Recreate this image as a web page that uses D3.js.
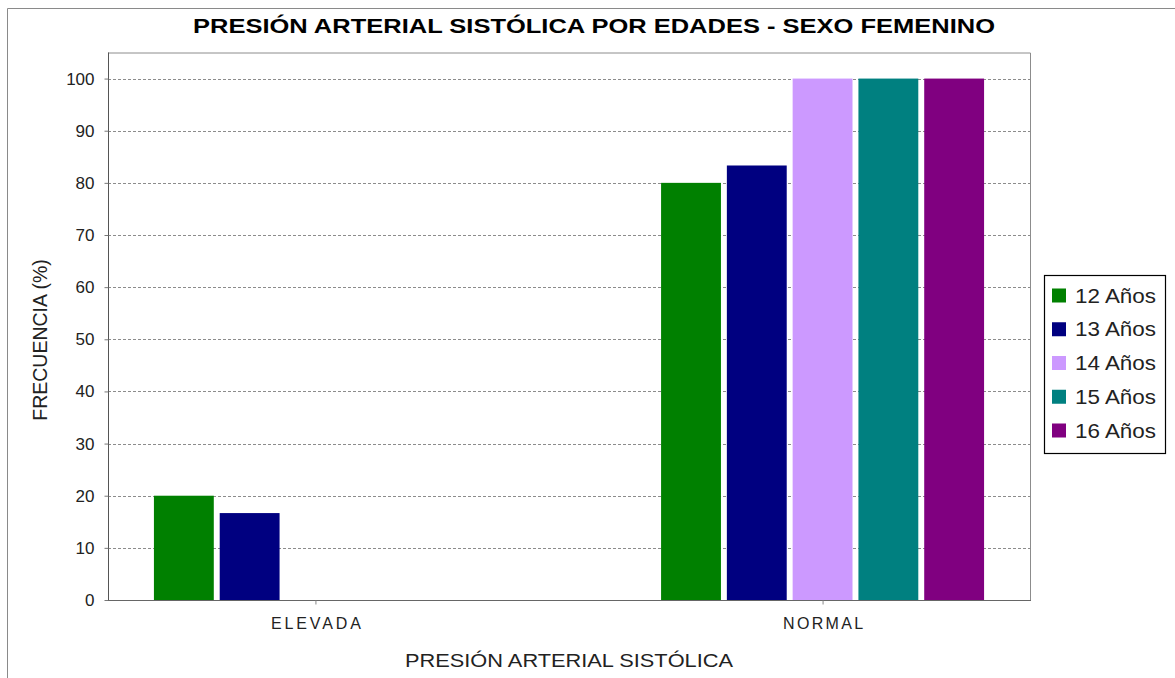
<!DOCTYPE html>
<html>
<head>
<meta charset="utf-8">
<script src="https://cdn.jsdelivr.net/npm/d3@7"></script>
<style>
  html, body { margin: 0; padding: 0; background: #fff; }
  svg { display: block; font-family: "Liberation Sans", Arial, sans-serif; }
</style>
</head>
<body>
<svg id="chart" width="1175" height="678"></svg>
<script>
// Categories on the x axis and age groups (series)
const categories = ["ELEVADA", "NORMAL"];
const series = ["12 Años", "13 Años", "14 Años", "15 Años", "16 Años"];
const colors = ["#008000", "#000080", "#cc99ff", "#008080", "#800080"];

// Percentage per age group, in the order of `categories`
const values12 = [20, 80];
const values13 = [16.67, 83.33];
const values14 = [0, 100];
const values15 = [0, 100];
const values16 = [0, 100];
const seriesValues = [values12, values13, values14, values15, values16];

const yTicks = [0, 10, 20, 30, 40, 50, 60, 70, 80, 90, 100];

const titleText = "PRESIÓN ARTERIAL SISTÓLICA POR EDADES - SEXO FEMENINO";
const xTitle = "PRESIÓN ARTERIAL SISTÓLICA";
const yTitle = "FRECUENCIA (%)";

const svg = d3.select("#chart");

// Plot frame
const plot = { left: 108, right: 1030, top: 52.5, bottom: 600 };

// Outer chart border (left and top edges)
svg.append("path")
  .attr("d", `M7.5,678 L7.5,8.5 L1175,8.5`)
  .attr("fill", "none")
  .attr("stroke", "#8a8a8a")
  .attr("stroke-width", 1);

const x = d3.scalePoint()
  .domain(categories)
  .range([plot.left, plot.right])
  .padding(0.409);

const xSub = d3.scaleBand()
  .domain(series)
  .range([-161.5, 161.5])
  .paddingInner(0.09)
  .paddingOuter(0);

const y = d3.scaleLinear()
  .domain([0, 105])
  .range([plot.bottom, plot.top]);

// Gridlines
svg.append("g")
  .selectAll("line")
  .data(yTicks.filter(d => d > 0))
  .join("line")
  .attr("x1", plot.left)
  .attr("x2", plot.right)
  .attr("y1", d => Math.round(y(d)) + 0.5)
  .attr("y2", d => Math.round(y(d)) + 0.5)
  .attr("stroke", "#8c8c8c")
  .attr("stroke-width", 1)
  .attr("stroke-dasharray", "3,2");

// Plot area border (top and right)
svg.append("path")
  .attr("d", `M${plot.left},${plot.top + 0.5} L${plot.right + 0.5},${plot.top + 0.5} L${plot.right + 0.5},${plot.bottom}`)
  .attr("fill", "none")
  .attr("stroke", "#8c8c8c");

// Bars
const rows = [];
series.forEach((s, si) => {
  categories.forEach((c, ci) => {
    rows.push({ series: s, category: c, value: seriesValues[si][ci], color: colors[si] });
  });
});

svg.append("g")
  .selectAll("rect")
  .data(rows.filter(d => d.value > 0))
  .join("rect")
  .attr("x", d => x(d.category) + xSub(d.series))
  .attr("y", d => y(d.value))
  .attr("width", xSub.bandwidth())
  .attr("height", d => y(0) - y(d.value))
  .attr("fill", d => d.color);

// Y axis
const yAxis = d3.axisLeft(y)
  .tickValues(yTicks)
  .tickSize(4)
  .tickPadding(10)
  .tickFormat(d3.format("d"));

const gy = svg.append("g")
  .attr("transform", `translate(${plot.left + 0.5},0)`)
  .call(yAxis);
gy.select(".domain").attr("stroke", "#555").attr("d", `M0,${plot.top}V${plot.bottom}`);
gy.selectAll(".tick line").attr("stroke", "#777");
gy.selectAll(".tick text")
  .attr("fill", "#222")
  .style("font-size", "17px")
  .style("font-family", "'Liberation Sans', Arial, sans-serif");

// X axis
const xAxis = d3.axisBottom(x).tickSize(4).tickPadding(13);
const gx = svg.append("g")
  .attr("transform", `translate(0,${plot.bottom + 0.5})`)
  .call(xAxis);
gx.select(".domain").attr("stroke", "#666").attr("d", `M${plot.left},0H${plot.right + 1}`);
gx.selectAll(".tick line").attr("stroke", "#888");
gx.selectAll(".tick text")
  .attr("fill", "#222")
  .style("font-size", "16px")
  .style("font-family", "'Liberation Sans', Arial, sans-serif")
  .attr("textLength", d => d === "ELEVADA" ? 90 : 80)
  .attr("lengthAdjust", "spacing");

// Title
svg.append("text")
  .attr("x", 594)
  .attr("y", 32.5)
  .attr("text-anchor", "middle")
  .attr("font-weight", "bold")
  .attr("font-size", 19.5)
  .attr("fill", "#000")
  .attr("textLength", 802)
  .attr("lengthAdjust", "spacingAndGlyphs")
  .text(titleText);

// Axis titles
svg.append("text")
  .attr("x", 569)
  .attr("y", 667)
  .attr("text-anchor", "middle")
  .attr("font-size", 18.5)
  .attr("fill", "#222")
  .attr("textLength", 328)
  .attr("lengthAdjust", "spacingAndGlyphs")
  .text(xTitle);

svg.append("text")
  .attr("transform", "translate(46.5,340) rotate(-90)")
  .attr("text-anchor", "middle")
  .attr("font-size", 19.5)
  .attr("fill", "#222")
  .text(yTitle);

// Legend
const legend = svg.append("g");
legend.append("rect")
  .attr("x", 1044.5)
  .attr("y", 275.5)
  .attr("width", 121)
  .attr("height", 178)
  .attr("fill", "#fff")
  .attr("stroke", "#000")
  .attr("stroke-width", 1.2);

const item = legend.selectAll("g.item")
  .data(series)
  .join("g")
  .attr("class", "item")
  .attr("transform", (d, i) => `translate(0,${295.5 + i * 33.75})`);

item.append("rect")
  .attr("x", 1052)
  .attr("y", -7)
  .attr("width", 14)
  .attr("height", 14)
  .attr("fill", (d, i) => colors[i]);

item.append("text")
  .attr("x", 1075)
  .attr("y", 7)
  .attr("font-size", 19.5)
  .attr("fill", "#222")
  .attr("textLength", 81)
  .attr("lengthAdjust", "spacingAndGlyphs")
  .text(d => d);
</script>
</body>
</html>
